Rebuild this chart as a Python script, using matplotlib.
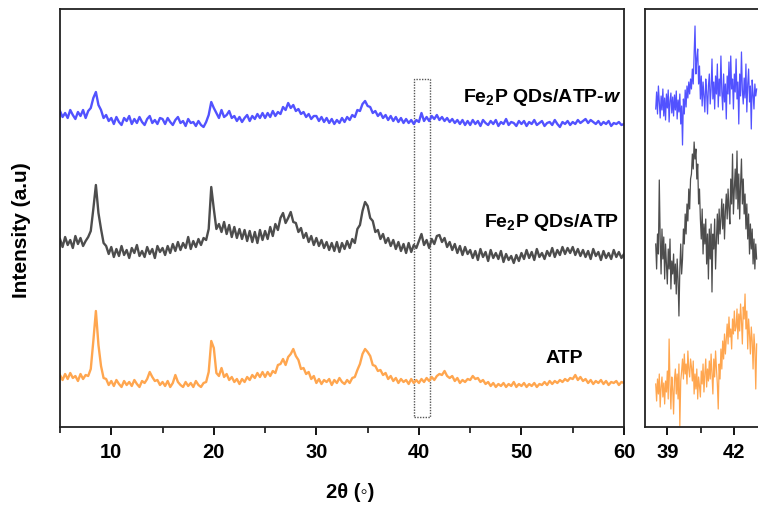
import numpy as np
import matplotlib
matplotlib.use("Agg")
import matplotlib.pyplot as plt
from matplotlib.ticker import MultipleLocator
from matplotlib.patches import Rectangle

plt.rcParams['font.family'] = ['Liberation Sans', 'DejaVu Sans']
plt.rcParams['mathtext.fontset'] = 'custom'
plt.rcParams['mathtext.rm'] = 'Liberation Sans:bold'
plt.rcParams['mathtext.bf'] = 'Liberation Sans:bold'
plt.rcParams['mathtext.it'] = 'Liberation Sans:italic:bold'
plt.rcParams['mathtext.default'] = 'bf'

# ---------------- data (main panel, 2theta from 5 to 60, step 0.25) ----------------
two_theta_start = 5.0
two_theta_step = 0.25

atp_w = [
    11, 5, 9, 4, 12, 7, 3, 10, 6, 12, 4, 11, 14, 24, 30, 17, 12, 4, 7, 1,
    4, -2, 5, 0, -3, 4, 1, 6, -2, 3, -1, 5, 0, -3, 3, 6, -1, 2, -2, 4,
    3, -2, 4, 0, -3, 2, 5, -1, 1, -4, 3, -1, 0, -4, 1, -3, -5, 0, 7, 20,
    14, 9, 4, 12, 5, 7, 11, 4, 6, 1, 5, 0, 4, 7, 1, 6, 3, 8, 4, 9,
    4, 9, 5, 11, 6, 10, 8, 15, 12, 19, 14, 17, 11, 13, 8, 10, 5, 8, 3, 6,
    6, 1, 5, 0, 4, -1, 3, -2, 2, -1, 4, 0, 5, 2, 7, 5, 12, 11, 18, 21,
    16, 15, 9, 11, 6, 9, 4, 7, 2, 6, 1, 5, 0, 4, -1, 3, -1, 2, -2, 2,
    0, 9, 1, 5, 1, 6, 3, 7, 2, 5, 1, 4, 0, 3, -1, 2, -2, 2, -3, 1,
    -3, 2, -2, 1, -4, 2, -1, -3, 1, -2, 2, -4, 0, -2, 3, -3, 0, -1, -4, 1,
    -2, 1, -4, 0, -2, 2, -3, -1, 1, -4, -1, 0, -3, 2, -2, -5, 0, -2, 1, -3,
    0, -2, 2, -1, 1, 3, -1, 2, 0, -2, 1, -3, 0, -2, 1, -4, -1, -2, 0, -3,
    -2,
]

fe2p_atp = [
    12, 4, 14, 6, 11, 3, 15, 7, 13, 5, 10, 14, 20, 42, 66, 38, 22, 8, 5, -3,
    4, -6, 2, -5, 5, -4, 1, -7, 3, -2, 6, -5, 0, -6, 4, -3, 2, -7, 5, -1,
    3, -4, 5, -2, 7, 0, 9, 1, 8, 3, 14, 2, 10, 4, 12, 6, 13, 11, 22, 64,
    42, 22, 27, 19, 29, 17, 26, 14, 24, 13, 22, 12, 21, 10, 20, 9, 19, 8, 21, 11,
    20, 12, 24, 15, 27, 21, 33, 38, 28, 33, 39, 29, 28, 19, 23, 13, 18, 9, 15, 6,
    13, 5, 11, 3, 9, 1, 8, 0, 9, -1, 8, 2, 10, 3, 12, 8, 22, 26, 40, 49,
    45, 33, 30, 19, 21, 12, 17, 8, 13, 5, 11, 2, 9, 0, 7, -2, 8, -1, 6, 3,
    10, 17, 6, 11, 3, 12, 7, 15, 16, 9, 13, 4, 9, 1, 7, -2, 5, -4, 4, -3,
    1, -7, 0, -9, 2, -6, -1, -10, 1, -7, -2, -8, 0, -11, -3, -9, -5, -12, -4, -10,
    -2, -8, 1, -7, -1, -9, 2, -6, -2, -8, 0, -5, 3, -6, 1, -4, 4, -3, 3, -2,
    4, -4, 2, -5, 1, -6, 0, -8, 2, -5, -1, -9, 0, -7, -2, -8, 1, -6, -1, -7,
    -3,
]

atp = [
    8, 3, 9, 4, 10, 5, 7, 2, 9, 4, 8, 7, 14, 42, 72, 38, 17, 5, 4, -2,
    2, -3, 3, -1, -4, 2, -2, 1, -3, 3, -1, -4, 2, 0, 4, 11, 6, 2, 3, -2,
    1, -3, 2, -4, 0, 8, 1, -2, -4, 1, -3, 0, -4, 2, -2, -4, 0, 1, 11, 42,
    35, 10, 7, 15, 6, 9, 3, 6, 1, 4, -1, 4, 1, 6, 3, 8, 5, 10, 6, 11,
    6, 11, 7, 12, 10, 18, 19, 24, 18, 26, 29, 34, 27, 23, 14, 15, 9, 11, 4, 7,
    0, 4, -1, 3, 1, 4, -2, 3, 0, 5, 1, -1, 3, 0, 5, 6, 13, 19, 29, 34,
    31, 27, 18, 17, 12, 13, 8, 10, 4, 7, 2, 5, 0, 4, 1, 3, -1, 4, 0, 3,
    0, 4, 1, 5, 2, 6, 3, 7, 9, 8, 12, 7, 5, 7, 2, 5, 0, 3, 1, 4,
    3, 7, 4, 5, 1, 3, -1, 1, -3, 0, -4, -1, -3, 0, -4, -1, -3, 1, -4, -1,
    -3, 0, -4, -1, -3, 0, -4, -1, -2, 1, -2, 2, -1, 2, 0, 3, 1, 4, 2, 5,
    4, 8, 3, 6, 2, 4, 0, 3, -1, 2, 0, 3, -1, 2, -2, 1, 0, 2, -2, 1,
    0,
]

offsets = {"atp_w": 305, "fe2p_atp": 176, "atp": 44}

# ---------------- data (zoomed panel, 2theta from 38.48 to 43.00, step 0.04) ----------------
zoom_start = 38.48
zoom_step = 0.04

zoom_atp_w = [
    -5, 12, -10, 18, 2, -14, 8, -6, 15, -12,
    6, -16, 10, -4, 14, -18, 3, 11, -9, 7,
    -12, 9, -6, 13, -15, 4, -8, 10, -20, -2,
    -41, 5, -10, 14, -3, 18, 6, 22, 10, 25,
    15, 35, 20, 50, 78, 30, 45, 55, 20, 38,
    5, 28, -2, 22, 8, -8, 25, 12, -10, 18,
    30, 0, 15, 45, 5, 22, -5, 28, 10, 40,
    -3, 25, 8, 48, 12, -6, 30, 2, 20, -15,
    28, 10, 42, 0, 48, 15, 25, -5, 30, 12,
    45, 5, 22, -20, 30, 8, 52, 14, 0, 26,
    6, 40, -8, 20, 35, 2, 18, -25, 24, 10,
    -5, 20, 8, 15,
]

zoom_fe2p_atp = [
    5, -20, 15, -5, 69, 10, -25, 20, -10, 12,
    -30, 5, -15, -35, 0, -20, 10, -40, -12, -25,
    -5, -35, -15, -45, -10, -30, -67, -20, 5, -25,
    -10, 20, 5, 35, 15, 45, 28, 60, 40, 70,
    75, 95, 80, 107, 90, 100, 70, 85, 45, 60,
    30, 10, 40, -5, 25, 5, 30, -15, 15, -30,
    20, -10, 25, -43, 15, 0, 30, -20, 10, 35,
    5, 40, 15, 30, 50, 20, 45, 10, 38, 55,
    30, 60, 40, 25, 70, 45, 95, 35, 60, 80,
    50, 98, 40, 75, 30, 65, 90, 45, 70, 35,
    55, 20, 45, 10, 35, -5, 25, 0, 20, -15,
    10, -20, 5, -10,
]

zoom_atp = [
    5, -12, 10, -5, 15, -18, 2, 12, -8, 6,
    -15, 8, -3, 18, -10, 50, 5, -20, 12, 0,
    -25, 10, 20, -5, 15, -10, 25, -37, 8, 18,
    30, 10, 35, 15, 25, 5, 38, 20, 12, 30,
    22, 8, 28, -5, 15, 0, 20, -10, 12, 3,
    -8, 18, 5, 25, -3, 15, 30, 2, 20, 8,
    28, 10, 35, 15, -5, 30, 12, 38, 20, 5,
    -20, 25, 10, 40, 20, 48, 30, 55, 35, 50,
    65, 45, 72, 52, 60, 40, 70, 55, 78, 58,
    62, 80, 50, 75, 58, 85, 68, 45, 82, 70,
    95, 60, 78, 40, 70, 55, 35, 62, 48, 20,
    55, 40, 0, 45,
]

zoom_offsets = {"atp_w": 323, "fe2p_atp": 178, "atp": 38}

colors = {"atp_w": "#5252ff", "fe2p_atp": "#4d4d4d", "atp": "#ffa64f"}
labels = {"atp_w": r"Fe$_2$P QDs/ATP-$\mathit{w}$",
          "fe2p_atp": r"Fe$_2$P QDs/ATP",
          "atp": "ATP"}
main_ticks = [10, 20, 30, 40, 50, 60]
zoom_ticks = [39, 42]
box_range = (39.57, 41.13)

# ---------------- figure ----------------
W, H = 758, 506
fig = plt.figure(figsize=(W / 100, H / 100), dpi=100)

def px_axes(x0, y0, x1, y1):
    return fig.add_axes([x0 / W, 1 - y1 / H, (x1 - x0) / W, (y1 - y0) / H])

ax = px_axes(60, 10, 624, 428)
axz = px_axes(645, 10, 780, 428)

series = {"atp_w": atp_w, "fe2p_atp": fe2p_atp, "atp": atp}
zseries = {"atp_w": zoom_atp_w, "fe2p_atp": zoom_fe2p_atp, "atp": zoom_atp}

for key, vals in series.items():
    v = np.array(vals, dtype=float)
    x = two_theta_start + two_theta_step * np.arange(len(v))
    ax.plot(x, v + offsets[key], color=colors[key], lw=1.7)

for key, vals in zseries.items():
    v = np.array(vals, dtype=float)
    x = zoom_start + zoom_step * np.arange(len(v))
    axz.plot(x, v + zoom_offsets[key], color=colors[key], lw=0.9)

ax.set_xlim(5, 60)
ax.set_ylim(0, 418)
axz.set_xlim(38.0, 38.0 + 135 / 22.33)
axz.set_ylim(0, 418)

# dotted box
ax.add_patch(Rectangle((box_range[0], 10), box_range[1] - box_range[0], 338,
                       fill=False, ls=(0, (1, 1)), lw=1.0, ec="#555555"))

for a, ticks, minor in ((ax, main_ticks, 5), (axz, zoom_ticks, 1.5)):
    a.set_xticks(ticks)
    a.xaxis.set_minor_locator(MultipleLocator(minor))
    a.set_yticks([])
    a.tick_params(axis='x', which='major', direction='out', length=6, width=1.3,
                  labelsize=14.5, pad=5)
    a.tick_params(axis='x', which='minor', direction='out', length=4, width=1.1)
    for s in a.spines.values():
        s.set_linewidth(1.3)
        s.set_color('#222222')

ax.set_xticklabels([str(t) for t in main_ticks], fontweight='bold')
axz.set_xticklabels([str(t) for t in zoom_ticks], fontweight='bold')

fig.text(350 / W, 1 - 493 / H, "2θ (◦)", ha='center', va='center',
         fontsize=14.5, fontweight='bold')
fig.text(22 / W, 1 - 230 / H, "Intensity (a.u)", ha='center', va='center',
         rotation=90, fontsize=15, fontweight='bold')

ax.text(60.0 - 0.2, 428 - 102, labels["atp_w"], ha='right', va='baseline',
        fontsize=14, fontweight='bold')
ax.text(60.0 - 0.5, 428 - 227, labels["fe2p_atp"], ha='right', va='baseline',
        fontsize=14, fontweight='bold')
ax.text(54.2, 428 - 363, labels["atp"], ha='center', va='baseline',
        fontsize=14, fontweight='bold')

fig.savefig("out.png", dpi=100)
